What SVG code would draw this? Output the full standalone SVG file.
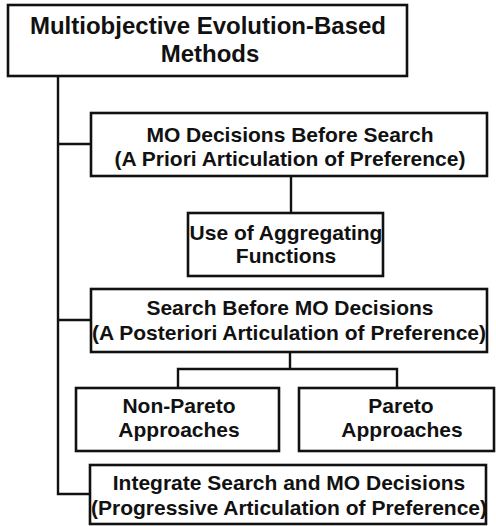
<svg xmlns="http://www.w3.org/2000/svg" width="496" height="526" viewBox="0 0 496 526">
<style>
.box{fill:#fff;stroke:#111;stroke-width:2.6}
.ln{fill:none;stroke:#111;stroke-width:2.4}
text{font-family:"Liberation Sans",Arial,sans-serif;font-weight:bold;font-size:21px;fill:#111;text-anchor:middle}
.t{font-size:24px}
</style>
<rect width="496" height="526" fill="#fff"/>
<g id="connectors">
<path class="ln" d="M58 76 V494 H90"/>
<path class="ln" d="M58 144 H91"/>
<path class="ln" d="M58 320 H91"/>
<path class="ln" d="M291 176 V213"/>
<path class="ln" d="M290 352 V369"/>
<path class="ln" d="M178 388 V369 H397 V388"/>
</g>
<g id="root">
<rect class="box" x="8" y="5" width="399" height="71"/>
<text class="t" x="208" y="34">Multiobjective Evolution-Based</text>
<text class="t" x="210" y="62">Methods</text>
</g>
<g id="before">
<rect class="box" x="91" y="113" width="396" height="63"/>
<text x="290" y="142">MO Decisions Before Search</text>
<text x="290" y="166">(A Priori Articulation of Preference)</text>
</g>
<g id="aggregating">
<rect class="box" x="188" y="213" width="195" height="63"/>
<text x="286" y="240">Use of Aggregating</text>
<text x="286" y="263">Functions</text>
</g>
<g id="after">
<rect class="box" x="91" y="289" width="396" height="63"/>
<text x="290" y="315">Search Before MO Decisions</text>
<text x="289" y="340">(A Posteriori Articulation of Preference)</text>
</g>
<g id="nonpareto">
<rect class="box" x="76" y="388" width="203" height="63"/>
<text x="179" y="413">Non-Pareto</text>
<text x="179" y="437">Approaches</text>
</g>
<g id="pareto">
<rect class="box" x="299" y="388" width="195" height="63"/>
<text x="401" y="413">Pareto</text>
<text x="402" y="437">Approaches</text>
</g>
<g id="progressive">
<rect class="box" x="90" y="465" width="396" height="59"/>
<text x="289" y="490">Integrate Search and MO Decisions</text>
<text x="289" y="515">(Progressive Articulation of Preference)</text>
</g>
</svg>
